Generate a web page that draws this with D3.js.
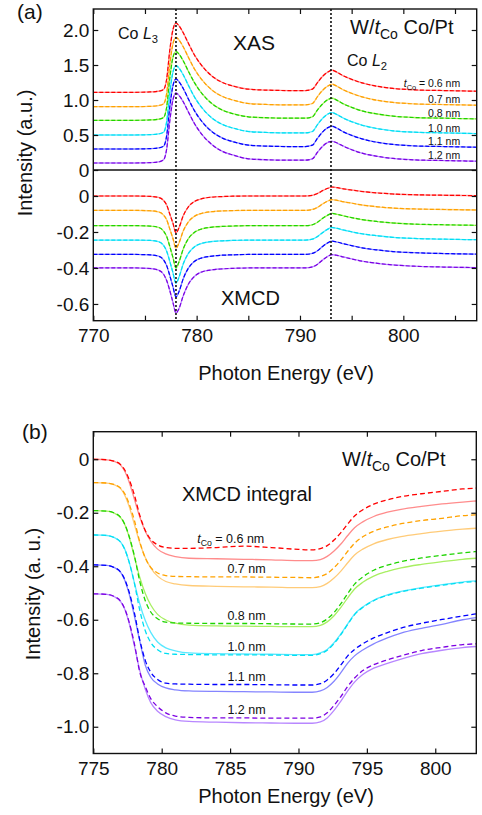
<!DOCTYPE html>
<html><head><meta charset="utf-8">
<script src="https://cdn.jsdelivr.net/npm/d3@7/dist/d3.min.js"></script>
<style>
body{margin:0;background:#fff}
svg text{font-family:"Liberation Sans",Arial,Helvetica,sans-serif;fill:#111}
</style>
</head><body>
<svg id="c" width="482" height="815"></svg>
<script>
// ---------------- DATA ----------------
const thickness = ["0.6 nm","0.7 nm","0.8 nm","1.0 nm","1.1 nm","1.2 nm"];
const edges = [778, 793];               // Co L3, Co L2 (dotted lines)

// panel (a) energy grid (eV)
const energyA = [770,772,774,775.5,776.3,776.8,777.1,777.4,777.7,778.0,778.3,778.7,779.2,779.8,780.5,781.5,782.5,783.5,785,787,789,790.5,791.2,791.7,792.2,792.7,793.1,793.6,794.2,795,796,797.5,799,801,804,807.1];

// XAS (offset) spectra
const xas06 = [1.11,1.11,1.11,1.115,1.125,1.15,1.30,1.71,2.00,2.10,2.06,1.96,1.81,1.64,1.49,1.34,1.25,1.20,1.155,1.14,1.135,1.135,1.155,1.25,1.34,1.40,1.425,1.395,1.345,1.295,1.245,1.195,1.165,1.145,1.135,1.125];
const xas07 = [0.905,0.905,0.905,0.91,0.92,0.945,1.095,1.505,1.80,1.895,1.855,1.76,1.61,1.44,1.29,1.14,1.05,1.0,0.95,0.935,0.93,0.93,0.95,1.05,1.14,1.20,1.225,1.195,1.145,1.095,1.045,0.995,0.965,0.945,0.935,0.925];
const xas08 = [0.71,0.71,0.71,0.715,0.725,0.75,0.90,1.31,1.605,1.69,1.655,1.56,1.41,1.245,1.095,0.945,0.855,0.805,0.76,0.745,0.74,0.74,0.76,0.86,0.945,1.005,1.025,0.995,0.945,0.895,0.845,0.80,0.77,0.75,0.74,0.73];
const xas10 = [0.50,0.50,0.50,0.505,0.515,0.54,0.69,1.10,1.395,1.49,1.455,1.36,1.21,1.04,0.89,0.74,0.65,0.60,0.55,0.535,0.53,0.53,0.55,0.65,0.74,0.80,0.82,0.79,0.74,0.69,0.64,0.59,0.56,0.54,0.53,0.52];
const xas11 = [0.30,0.30,0.30,0.305,0.315,0.34,0.49,0.90,1.20,1.30,1.26,1.165,1.015,0.845,0.695,0.545,0.455,0.405,0.355,0.34,0.335,0.335,0.355,0.455,0.545,0.605,0.625,0.595,0.545,0.495,0.445,0.395,0.365,0.345,0.335,0.325];
const xas12 = [0.10,0.10,0.10,0.105,0.115,0.145,0.30,0.70,1.00,1.10,1.065,0.975,0.83,0.66,0.51,0.36,0.265,0.215,0.16,0.145,0.14,0.14,0.16,0.255,0.34,0.395,0.41,0.385,0.34,0.29,0.24,0.195,0.165,0.145,0.135,0.125];

// XMCD (offset) spectra
const xmcd06 = [0,0,0,-0.002,-0.008,-0.025,-0.05,-0.1,-0.15,-0.205,-0.175,-0.11,-0.06,-0.03,-0.015,-0.006,-0.003,-0.001,0,0,0,0,0.004,0.014,0.03,0.043,0.05,0.046,0.04,0.033,0.025,0.017,0.011,0.007,0.004,0.002];
const xmcd07 = [-0.08,-0.08,-0.08,-0.082,-0.088,-0.106,-0.132,-0.183,-0.235,-0.29,-0.26,-0.195,-0.144,-0.112,-0.096,-0.087,-0.083,-0.081,-0.08,-0.08,-0.08,-0.08,-0.075,-0.063,-0.044,-0.028,-0.02,-0.024,-0.032,-0.04,-0.05,-0.06,-0.067,-0.072,-0.075,-0.078];
const xmcd08 = [-0.165,-0.165,-0.165,-0.167,-0.174,-0.195,-0.225,-0.28,-0.34,-0.40,-0.365,-0.295,-0.237,-0.201,-0.183,-0.173,-0.169,-0.167,-0.165,-0.165,-0.165,-0.165,-0.16,-0.146,-0.124,-0.106,-0.097,-0.102,-0.11,-0.12,-0.131,-0.142,-0.15,-0.156,-0.16,-0.163];
const xmcd10 = [-0.245,-0.245,-0.245,-0.247,-0.254,-0.275,-0.307,-0.363,-0.425,-0.485,-0.45,-0.378,-0.319,-0.282,-0.263,-0.253,-0.249,-0.247,-0.245,-0.245,-0.245,-0.245,-0.24,-0.225,-0.203,-0.184,-0.175,-0.18,-0.189,-0.199,-0.21,-0.221,-0.23,-0.236,-0.24,-0.243];
const xmcd11 = [-0.325,-0.325,-0.325,-0.327,-0.334,-0.355,-0.387,-0.442,-0.503,-0.56,-0.53,-0.46,-0.401,-0.363,-0.344,-0.334,-0.329,-0.327,-0.325,-0.325,-0.325,-0.325,-0.319,-0.304,-0.28,-0.26,-0.251,-0.256,-0.265,-0.276,-0.288,-0.30,-0.309,-0.315,-0.32,-0.323];
const xmcd12 = [-0.40,-0.40,-0.40,-0.403,-0.412,-0.435,-0.47,-0.525,-0.59,-0.65,-0.625,-0.555,-0.49,-0.446,-0.422,-0.41,-0.405,-0.402,-0.40,-0.40,-0.40,-0.40,-0.394,-0.379,-0.355,-0.335,-0.326,-0.33,-0.339,-0.35,-0.362,-0.374,-0.383,-0.39,-0.395,-0.398];

// panel (b) energy grid (eV)
const energyB = [775,776,776.5,777,777.3,777.6,778,778.4,778.8,779.2,779.7,780.3,781,782,784,786,788,790,791,791.6,792.1,792.6,793.1,793.6,794.1,794.7,795.5,796.5,797.5,799,800.5,802,803];

// XMCD integral: dashed (measured) and solid curves
const int06Dash  = [0,-0.002,-0.007,-0.02,-0.04,-0.073,-0.133,-0.21,-0.266,-0.3,-0.32,-0.33,-0.333,-0.333,-0.33,-0.325,-0.33,-0.337,-0.339,-0.334,-0.323,-0.302,-0.274,-0.242,-0.212,-0.189,-0.168,-0.152,-0.14,-0.129,-0.12,-0.111,-0.108];
const int06Solid = [0,-0.002,-0.007,-0.022,-0.045,-0.082,-0.149,-0.216,-0.269,-0.306,-0.336,-0.354,-0.364,-0.37,-0.372,-0.374,-0.376,-0.379,-0.379,-0.375,-0.363,-0.343,-0.317,-0.285,-0.256,-0.234,-0.214,-0.198,-0.187,-0.176,-0.167,-0.16,-0.156];
const int07Dash  = [-0.087,-0.089,-0.094,-0.108,-0.129,-0.164,-0.228,-0.309,-0.369,-0.404,-0.425,-0.435,-0.438,-0.439,-0.44,-0.44,-0.441,-0.442,-0.443,-0.438,-0.427,-0.405,-0.377,-0.344,-0.314,-0.29,-0.269,-0.253,-0.241,-0.229,-0.221,-0.211,-0.208];
const int07Solid = [-0.087,-0.089,-0.095,-0.11,-0.134,-0.173,-0.243,-0.313,-0.367,-0.406,-0.437,-0.457,-0.466,-0.472,-0.475,-0.477,-0.478,-0.48,-0.48,-0.476,-0.464,-0.444,-0.418,-0.387,-0.358,-0.336,-0.316,-0.3,-0.289,-0.278,-0.269,-0.261,-0.258];
const int08Dash  = [-0.192,-0.194,-0.2,-0.217,-0.243,-0.285,-0.36,-0.457,-0.529,-0.571,-0.596,-0.609,-0.612,-0.613,-0.614,-0.614,-0.615,-0.616,-0.616,-0.611,-0.597,-0.573,-0.54,-0.502,-0.467,-0.44,-0.415,-0.396,-0.383,-0.369,-0.359,-0.35,-0.345];
const int08Solid = [-0.192,-0.194,-0.201,-0.218,-0.244,-0.287,-0.364,-0.442,-0.502,-0.545,-0.58,-0.601,-0.613,-0.62,-0.623,-0.624,-0.625,-0.626,-0.626,-0.621,-0.608,-0.585,-0.554,-0.518,-0.485,-0.46,-0.437,-0.419,-0.406,-0.393,-0.383,-0.374,-0.37];
const int10Dash  = [-0.283,-0.285,-0.292,-0.31,-0.337,-0.381,-0.462,-0.565,-0.641,-0.685,-0.712,-0.726,-0.729,-0.73,-0.731,-0.731,-0.732,-0.733,-0.733,-0.727,-0.714,-0.689,-0.656,-0.617,-0.581,-0.554,-0.529,-0.509,-0.496,-0.482,-0.471,-0.461,-0.457];
const int10Solid = [-0.283,-0.285,-0.292,-0.31,-0.336,-0.381,-0.461,-0.541,-0.603,-0.647,-0.683,-0.705,-0.716,-0.724,-0.727,-0.728,-0.729,-0.73,-0.73,-0.724,-0.711,-0.686,-0.653,-0.615,-0.579,-0.552,-0.527,-0.507,-0.494,-0.48,-0.469,-0.459,-0.455];
const int11Dash  = [-0.395,-0.397,-0.404,-0.422,-0.449,-0.493,-0.573,-0.676,-0.752,-0.796,-0.823,-0.837,-0.84,-0.841,-0.842,-0.842,-0.843,-0.844,-0.844,-0.839,-0.825,-0.801,-0.769,-0.735,-0.711,-0.69,-0.668,-0.648,-0.631,-0.613,-0.599,-0.586,-0.578];
const int11Solid = [-0.395,-0.397,-0.404,-0.423,-0.452,-0.499,-0.585,-0.68,-0.77,-0.815,-0.84,-0.855,-0.862,-0.866,-0.868,-0.869,-0.87,-0.871,-0.871,-0.866,-0.853,-0.83,-0.798,-0.762,-0.735,-0.713,-0.69,-0.668,-0.65,-0.632,-0.617,-0.6,-0.592];
const int12Dash  = [-0.503,-0.505,-0.512,-0.531,-0.559,-0.605,-0.689,-0.796,-0.85,-0.895,-0.925,-0.948,-0.96,-0.965,-0.967,-0.967,-0.968,-0.968,-0.968,-0.963,-0.948,-0.92,-0.887,-0.849,-0.818,-0.79,-0.768,-0.75,-0.735,-0.715,-0.703,-0.693,-0.69];
const int12Solid = [-0.503,-0.505,-0.513,-0.532,-0.561,-0.609,-0.696,-0.79,-0.86,-0.91,-0.942,-0.962,-0.974,-0.98,-0.983,-0.985,-0.986,-0.987,-0.987,-0.982,-0.967,-0.939,-0.904,-0.866,-0.833,-0.805,-0.781,-0.763,-0.747,-0.727,-0.714,-0.704,-0.70];

// ticks
const xTicksA = [770,775,780,785,790,795,800,805];
const yTicksXAS = [0,0.5,1.0,1.5,2.0];
const yTicksXMCD = [0,-0.2,-0.4,-0.6];
const xTicksB = [775,780,785,790,795,800];
const yTicksB = [0,-0.2,-0.4,-0.6,-0.8,-1.0];

// ---------------- STYLE ----------------
const dashColors  = ["#ff0000","#ffa200","#1ed400","#00dff2","#0000ff","#7c00e2"];
const solidColors = ["#ff8c8c","#ffcb78","#a8ef62","#5ae8ff","#8585ff","#b887ff"];

const xasSeries  = [xas06,xas07,xas08,xas10,xas11,xas12];
const xmcdSeries = [xmcd06,xmcd07,xmcd08,xmcd10,xmcd11,xmcd12];
const intDash  = [int06Dash,int07Dash,int08Dash,int10Dash,int11Dash,int12Dash];
const intSolid = [int06Solid,int07Solid,int08Solid,int10Solid,int11Solid,int12Solid];

const svg = d3.select("#c");

// scales
const xA = d3.scaleLinear().domain([770,807.1]).range([93.3,476.7]);
const yXAS = d3.scaleLinear().domain([0,2.3]).range([170,9]);
const yXMCD = d3.scaleLinear().domain([-0.693,0.1444]).range([320.7,170]);
const xB = d3.scaleLinear().domain([775,803]).range([93.3,476.3]);
const yB = d3.scaleLinear().domain([-1.1,0.103]).range([753.5,431.7]);

const fmtY = d => d===0 ? "0" : d3.format(".1f")(d).replace("\u2212","-");
const TS = 5, FS = "19px";

function styleAxis(g, showLabels){
  g.select(".domain").remove();
  g.selectAll(".tick line").attr("stroke","#111").attr("stroke-width",1.2);
  g.selectAll(".tick text").style("font-size",FS).attr("fill","#111");
  if(!showLabels) g.selectAll(".tick text").remove();
}

function frame(x, y0, y1){
  const [l,r] = x.range();
  svg.append("rect").attr("x",l).attr("y",y1).attr("width",r-l).attr("height",y0-y1)
    .attr("fill","none").attr("stroke","#111").attr("stroke-width",1.4);
}

// clip paths
const defs = svg.append("defs");
defs.append("clipPath").attr("id","clipXAS").append("rect")
  .attr("x",xA.range()[0]).attr("y",yXAS.range()[1]).attr("width",xA.range()[1]-xA.range()[0]).attr("height",yXAS.range()[0]-yXAS.range()[1]);
defs.append("clipPath").attr("id","clipXMCD").append("rect")
  .attr("x",xA.range()[0]).attr("y",yXMCD.range()[1]).attr("width",xA.range()[1]-xA.range()[0]).attr("height",yXMCD.range()[0]-yXMCD.range()[1]);
defs.append("clipPath").attr("id","clipB").append("rect")
  .attr("x",xB.range()[0]).attr("y",yB.range()[1]).attr("width",xB.range()[1]-xB.range()[0]).attr("height",yB.range()[0]-yB.range()[1]);

function drawSeries(energy, values, x, y, clip, color, dashed, width){
  const line = d3.line().x((d,i)=>x(energy[i])).y(d=>y(d)).curve(d3.curveMonotoneX);
  const p = svg.append("path").datum(values).attr("d",line).attr("fill","none")
    .attr("stroke",color).attr("stroke-width",width).attr("clip-path",`url(#${clip})`);
  if(dashed) p.attr("stroke-dasharray",dashed);
}

// ---------------- PANEL (a) ----------------
xasSeries.forEach((s,i)=>drawSeries(energyA,s,xA,yXAS,"clipXAS",solidColors[i],null,1.3));
xasSeries.forEach((s,i)=>drawSeries(energyA,s,xA,yXAS,"clipXAS",dashColors[i],"4,2",1.2));
xmcdSeries.forEach((s,i)=>drawSeries(energyA,s,xA,yXMCD,"clipXMCD",solidColors[i],null,1.3));
xmcdSeries.forEach((s,i)=>drawSeries(energyA,s,xA,yXMCD,"clipXMCD",dashColors[i],"4,2",1.2));

// dotted edge lines
svg.selectAll(".edge").data(edges).enter().append("line")
  .attr("x1",d=>xA(d)).attr("x2",d=>xA(d)).attr("y1",yXAS.range()[1]).attr("y2",yXMCD.range()[0])
  .attr("stroke","#111").attr("stroke-width",1.6).attr("stroke-dasharray","2,2");

// axes (a)
styleAxis(svg.append("g").attr("transform",`translate(0,${yXMCD.range()[0]})`)
  .call(d3.axisBottom(xA).tickValues(xTicksA).tickSizeInner(-TS).tickSizeOuter(0).tickPadding(8)
  .tickFormat(d=> d%10===0 ? d : "")), true);
styleAxis(svg.append("g").attr("transform",`translate(0,${yXAS.range()[1]})`)
  .call(d3.axisTop(xA).tickValues(xTicksA).tickSizeInner(-TS).tickSizeOuter(0)), false);
styleAxis(svg.append("g").attr("transform",`translate(${xA.range()[0]},0)`)
  .call(d3.axisLeft(yXAS).tickValues(yTicksXAS).tickSizeInner(-TS).tickSizeOuter(0).tickPadding(4).tickFormat(fmtY)), true);
styleAxis(svg.append("g").attr("transform",`translate(${xA.range()[1]},0)`)
  .call(d3.axisRight(yXAS).tickValues(yTicksXAS).tickSizeInner(-TS).tickSizeOuter(0)), false);
styleAxis(svg.append("g").attr("transform",`translate(${xA.range()[0]},0)`)
  .call(d3.axisLeft(yXMCD).tickValues(yTicksXMCD).tickSizeInner(-TS).tickSizeOuter(0).tickPadding(4).tickFormat(fmtY)), true);
styleAxis(svg.append("g").attr("transform",`translate(${xA.range()[1]},0)`)
  .call(d3.axisRight(yXMCD).tickValues(yTicksXMCD).tickSizeInner(-TS).tickSizeOuter(0)), false);

frame(xA, yXMCD.range()[0], yXAS.range()[1]);
svg.append("line").attr("x1",xA.range()[0]).attr("x2",xA.range()[1])
  .attr("y1",yXAS(0)).attr("y2",yXAS(0)).attr("stroke","#111").attr("stroke-width",1.4);

// texts (a)
function label(x,y,size,parts,anchor){
  const t = svg.append("text").attr("x",x).attr("y",y).style("font-size",size+"px").attr("text-anchor",anchor||"start");
  parts.forEach(p=>{
    const ts = t.append("tspan").text(p.t);
    if(p.i) ts.style("font-style","italic");
    if(p.sub) ts.style("font-size",(size*0.7)+"px").attr("dy",size*0.25);
    if(p.up) ts.attr("dy",-size*0.25);
  });
  return t;
}
label(17,19,21,[{t:"(a)"}]);
label(118,39,16,[{t:"Co "},{t:"L",i:1},{t:"3",sub:1}]);
label(347,65.7,16,[{t:"Co "},{t:"L",i:1},{t:"2",sub:1}]);
label(233,49.5,21,[{t:"XAS"}]);
label(350,34,20,[{t:"W/"},{t:"t",i:1},{t:"Co",sub:1},{t:" Co/Pt",up:1}]);
label(221,305,20,[{t:"XMCD"}]);

thickness.forEach((lab,i)=>{
  const s = xasSeries[i];
  const yy = yXAS(s[s.length-1]) - (i===0 ? 4 : 1.8);
  if(i===0) label(xA(805.5),yy,10.5,[{t:"t",i:1},{t:"Co",sub:1},{t:" = "+lab,up:1}],"end");
  else label(xA(805.5),yy,10.5,[{t:lab}],"end");
});

svg.append("text").attr("transform",`translate(32,153) rotate(-90)`).attr("text-anchor","middle")
  .style("font-size","20px").text("Intensity (a.u.)");
svg.append("text").attr("x",286).attr("y",380).attr("text-anchor","middle")
  .style("font-size","20px").text("Photon Energy (eV)");

// ---------------- PANEL (b) ----------------
intSolid.forEach((s,i)=>drawSeries(energyB,s,xB,yB,"clipB",solidColors[i],null,1.3));
intDash.forEach((s,i)=>drawSeries(energyB,s,xB,yB,"clipB",dashColors[i],"5,3",1.3));

styleAxis(svg.append("g").attr("transform",`translate(0,${yB.range()[0]})`)
  .call(d3.axisBottom(xB).tickValues(xTicksB).tickSizeInner(-TS).tickSizeOuter(0).tickPadding(8)), true);
styleAxis(svg.append("g").attr("transform",`translate(0,${yB.range()[1]})`)
  .call(d3.axisTop(xB).tickValues(xTicksB).tickSizeInner(-TS).tickSizeOuter(0)), false);
styleAxis(svg.append("g").attr("transform",`translate(${xB.range()[0]},0)`)
  .call(d3.axisLeft(yB).tickValues(yTicksB).tickSizeInner(-TS).tickSizeOuter(0).tickPadding(4).tickFormat(fmtY)), true);
styleAxis(svg.append("g").attr("transform",`translate(${xB.range()[1]},0)`)
  .call(d3.axisRight(yB).tickValues(yTicksB).tickSizeInner(-TS).tickSizeOuter(0)), false);
frame(xB, yB.range()[0], yB.range()[1]);

label(22,439,21,[{t:"(b)"}]);
label(182,501,20,[{t:"XMCD integral"}]);
label(342,466,20,[{t:"W/"},{t:"t",i:1},{t:"Co",sub:1},{t:" Co/Pt",up:1}]);

thickness.forEach((lab,i)=>{
  const yy = yB(intDash[i][15]) - 3.5;
  if(i===0) label(xB(787.5),yy,12.5,[{t:"t",i:1},{t:"Co",sub:1},{t:" = "+lab,up:1}],"end");
  else label(xB(787.6),yy,12.5,[{t:lab}],"end");
});

svg.append("text").attr("transform",`translate(39.5,594) rotate(-90)`).attr("text-anchor","middle")
  .style("font-size","20px").text("Intensity (a. u.)");
svg.append("text").attr("x",286).attr("y",803).attr("text-anchor","middle")
  .style("font-size","20px").text("Photon Energy (eV)");
</script>
</body></html>
